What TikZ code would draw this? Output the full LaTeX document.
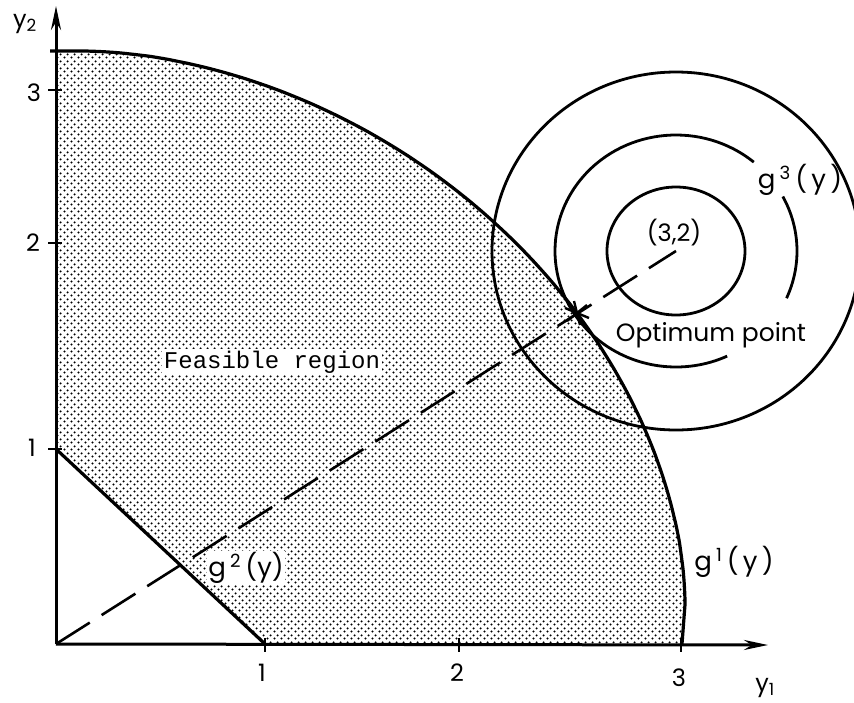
\documentclass[tikz,border=0pt]{standalone}
\usepackage{fontspec}
\setmainfont{Poppins}
\newfontfamily\ttf{Liberation Mono}
\usetikzlibrary{patterns.meta,arrows.meta}

\tikzdeclarepattern{
  name=stipple,
  type=uncolored,
  bottom left={(0pt,0pt)},
  top right={(7pt,7pt)},
  tile size={(7pt,7pt)},
  code={
    \fill (1.75pt,1.75pt) circle[radius=1.3pt];
    \fill (5.25pt,5.25pt) circle[radius=1.3pt];
  }
}

\begin{document}
\begin{tikzpicture}[x=1pt,y=-1pt,
  axisline/.style={line width=3pt, -{Stealth[length=24pt,width=10pt]}},
  bound/.style={line width=3.2pt, line join=round},
  ring/.style={line width=2.8pt},
  tick/.style={line width=2.6pt},
  lbl/.style={font=\fontsize{24}{24}\selectfont, inner sep=1pt},
  biglbl/.style={font=\fontsize{26}{26}\selectfont, inner sep=1pt},
  dashline/.style={line width=2.6pt, dash pattern=on 40pt off 14pt},
  supcurve/.style={domain=90:0, samples=120, variable=\t, smooth},
]
\useasboundingbox (0,0) rectangle (854,702);

% key points
\coordinate (O) at (56,644);
\coordinate (Ytop) at (56,6);
\coordinate (Xend) at (768,645);
\coordinate (A) at (56,449);
\coordinate (B) at (265,644);
\coordinate (T) at (56,51);
\coordinate (E) at (682,644);
\coordinate (C) at (676,251);
\coordinate (S) at (577,313);

% feasible region shading
\fill[pattern=stipple] (A) -- (T) -- plot[supcurve] ({80+605*pow(max(cos(\t),0.00001),1.081)}, {605-554*pow(max(sin(\t),0.00001),1.081)}) -- (E) -- (B) -- cycle;

% boundary curve g1
\draw[bound] (50,51) -- (T) -- plot[supcurve] ({80+605*pow(max(cos(\t),0.00001),1.081)}, {605-554*pow(max(sin(\t),0.00001),1.081)}) -- (E);

% g2 line
\draw[bound] (A) -- (B);

% axes
\draw[axisline] (O) -- (Ytop);
\draw[axisline] (O) -- (Xend);

% ticks
\draw[tick] (265,638) -- (265,652);
\draw[tick] (459,638) -- (459,652);
\draw[tick] (681,638) -- (681,652);
\draw[tick] (48,449) -- (62,449);
\draw[tick] (48,243) -- (62,243);
\draw[tick] (48,90) -- (62,90);

% tick labels
\node[lbl] (x1) at (262,673) {1};
\node[lbl] (x2) at (457,673) {2};
\node[lbl] (x3) at (679,678) {3};
\node[lbl] (y1) at (32,448) {1};
\node[lbl] (y2) at (33,243) {2};
\node[lbl] (y3) at (34,93) {3};
\node[lbl] (ylab1) at (765,688) {y\textsubscript{1}};
\node[lbl] (ylab2) at (25,24) {y\textsubscript{2}};

% contour circles g3
\begin{scope}
\clip (0,0) rectangle (854,702);
\draw[ring] (C) ellipse [x radius=184, y radius=179];
\end{scope}
\draw[ring] (C) ellipse [x radius=69, y radius=64];
\draw[ring] ([shift={(-50:121 and 116)}]C) arc[start angle=-50, end angle=-295, x radius=121, y radius=116];
\draw[ring] ([shift={(24:121 and 116)}]C) arc[start angle=24, end angle=-28, x radius=121, y radius=116];

% dashed line to optimum
\draw[dashline] (O) -- (C);

% optimum star
\draw[line width=2.4pt] ([shift={(-12,-5)}]S) -- ([shift={(12,5)}]S);
\draw[line width=2.4pt] ([shift={(-3,-12)}]S) -- ([shift={(3,12)}]S);
\draw[line width=2.4pt] ([shift={(10,-8)}]S) -- ([shift={(-10,8)}]S);

% labels
\node[fill=white, inner sep=2pt, font=\ttf\fontsize{24}{24}\selectfont] (feas) at (272,362) {Feasible region};
\node[biglbl, fill=white, inner sep=1pt] (g2) at (246,568) {g\,\textsuperscript{2}\,(y)};
\node[biglbl] (g1) at (734,562) {g\,\textsuperscript{1}\,(\,y\,)};
\node[biglbl] (g3) at (800,180) {g\,\textsuperscript{3}\,(\,y\,)};
\node[lbl] (pt) at (674,233) {(3,2)};
\node[font=\fontsize{25}{25}\selectfont, inner sep=1pt] (opt) at (711,335) {Optimum point};
\end{tikzpicture}
\end{document}
